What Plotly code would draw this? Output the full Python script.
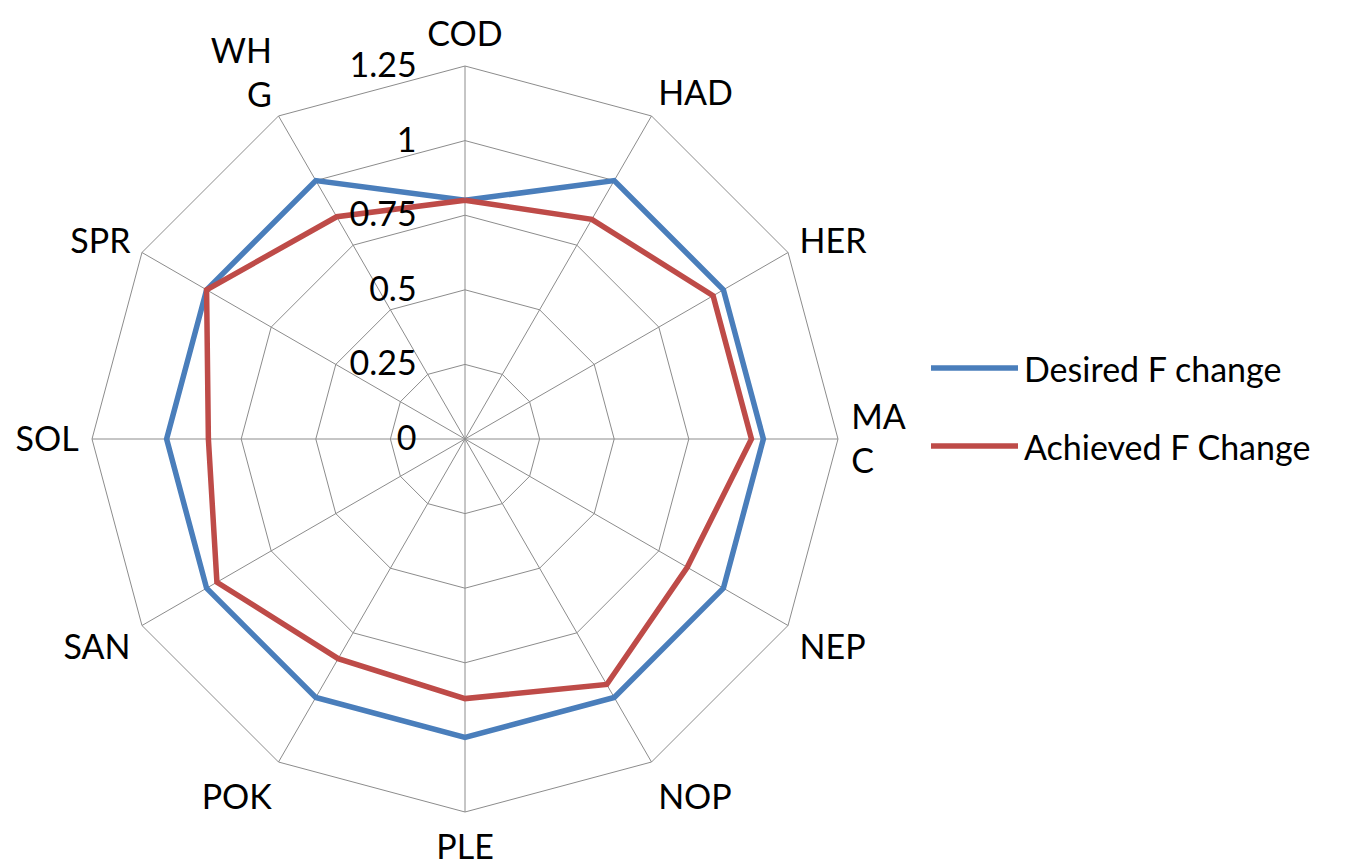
import plotly.graph_objects as go

categories = ["COD", "HAD", "HER", "MAC", "NEP", "NOP", "PLE", "POK", "SAN", "SOL", "SPR", "WHG"]
category_labels = ["COD", "HAD", "HER", "MA<br>C", "NEP", "NOP", "PLE", "POK", "SAN", "SOL", "SPR", "WH<br>G"]
desired = [0.80, 1.00, 1.00, 1.00, 1.00, 1.00, 1.00, 1.00, 1.00, 1.00, 1.00, 1.00]
achieved = [0.80, 0.85, 0.96, 0.96, 0.86, 0.95, 0.87, 0.85, 0.96, 0.86, 1.00, 0.86]
series_names = ["Desired F change", "Achieved F Change"]
series_colors = ["#4a7ebb", "#be4b48"]
radial_ticks = [0, 0.25, 0.5, 0.75, 1, 1.25]
radial_ticktext = ["0", "0.25", "0.5", "0.75", "1", "1.25"]

FONT = "Lato"
FS = 34

fig = go.Figure()
for name, vals, col in zip(series_names, [desired, achieved], series_colors):
    fig.add_trace(go.Scatterpolar(
        r=vals + [vals[0]],
        theta=categories + [categories[0]],
        mode="lines",
        name=name,
        line=dict(color=col, width=5.5),
        showlegend=False,
    ))

fig.update_layout(
    width=1348, height=868,
    paper_bgcolor="white",
    margin=dict(l=0, r=0, t=0, b=0),
    font=dict(family=FONT, size=FS, color="black"),
    polar=dict(
        domain=dict(x=[84/1348, 830/1348], y=[64/868, 810/868]),
        bgcolor="white",
        gridshape="linear",
        angularaxis=dict(
            rotation=90,
            direction="clockwise",
            tickmode="array",
            tickvals=categories,
            ticktext=category_labels,
            showline=True,
            linecolor="#8c8c8c",
            linewidth=1,
            gridcolor="#8c8c8c",
            gridwidth=1,
            ticks="outside",
            ticklen=6,
            tickcolor="rgba(0,0,0,0)",
            tickfont=dict(family=FONT, size=FS, color="black"),
        ),
        radialaxis=dict(
            range=[0, 1.25],
            tickmode="array",
            tickvals=radial_ticks,
            ticktext=radial_ticktext,
            angle=90,
            side="counterclockwise",
            showline=False,
            gridcolor="#8c8c8c",
            gridwidth=1,
            ticks="outside",
            ticklen=36,
            tickcolor="rgba(0,0,0,0)",
            tickangle=90,
            tickfont=dict(family=FONT, size=FS, color="black"),
        ),
    ),
)

# Legend drawn as shapes + text
legend_y = [360, 438]
for name, col, y in zip(series_names, series_colors, legend_y):
    yp = 1 - y / 868
    fig.add_shape(type="line", xref="paper", yref="paper",
                  x0=923/1348, x1=1010/1348, y0=yp, y1=yp,
                  line=dict(color=col, width=5.5))
    fig.add_annotation(xref="paper", yref="paper", x=1014/1348, y=yp,
                       text=name, showarrow=False, xanchor="left", yanchor="middle",
                       font=dict(family=FONT, size=FS, color="black"))

fig.write_html("out.html")
